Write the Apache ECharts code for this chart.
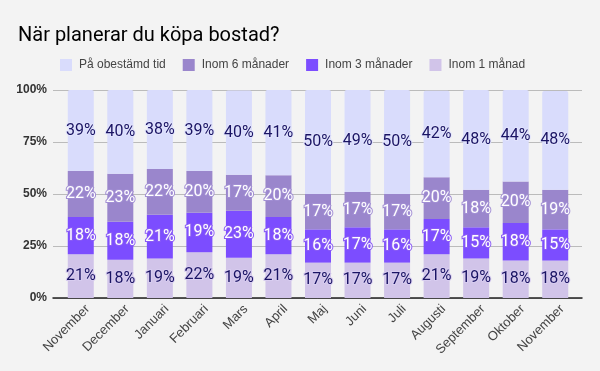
<!DOCTYPE html>
<html><head><meta charset="utf-8">
<script src="https://cdn.jsdelivr.net/npm/echarts@6/dist/echarts.min.js"></script>
<style>html,body{margin:0;padding:0;background:#f3f3f3}#c{width:600px;height:371px}</style>
</head><body><div id="c"></div>
<script>
var months = ['November','December','Januari','Februari','Mars','April','Maj','Juni','Juli','Augusti','September','Oktober','November'];
var inom1 = [21,18.4,19,22,19.3,21,17,17,17,21,19,18,18];
var inom3 = [18,18.2,21,19,22.6,18,16,17,16,17,15,18,15];
var inom6 = [22,23.1,22,20,17.4,20,17,17,17,20,18,20,19];
var obestamd = [39,40.3,38,39,40.4,41,50,49,50,41.6,48,44,47.5];
var yTicks = [0,25,50,75,100];

var chart = echarts.init(document.getElementById('c'), null, {renderer:'canvas'});
function lab(color, border, bcolor){
  return {show:true, position:'inside', formatter:function(p){return Math.round(p.value)+'%';}, fontFamily:'Roboto', fontSize:16,
          color:color, textBorderColor:bcolor, textBorderWidth:border};
}
var gTop=90, gBottom=73;
chart.setOption({
  backgroundColor:'#f3f3f3',
  animation:false,
  title:{text:'När planerar du köpa bostad?', left:13, top:21,
         textStyle:{fontFamily:'Roboto', fontSize:20, fontWeight:'normal', color:'#000'}},
  legend:{left:55, top:54, itemWidth:12, itemHeight:12, itemGap:17, icon:'rect',
          textStyle:{fontFamily:'Liberation Sans', fontSize:12, color:'#444', padding:[0,0,0,2]},
          data:['På obestämd tid','Inom 6 månader','Inom 3 månader','Inom 1 månad']},
  grid:[{left:53, right:18, top:gTop, bottom:gBottom},
        {left:61, right:25, top:gTop, bottom:gBottom},
        {left:68, right:18, top:gTop, bottom:gBottom}],
  xAxis:[{gridIndex:0, type:'category', data:months, axisTick:{show:false}, axisLabel:{show:false},
          axisLine:{lineStyle:{color:'#222', width:1.5}}},
         {gridIndex:1, type:'category', data:months, axisTick:{show:false}, axisLine:{show:false}, axisLabel:{show:false}},
         {gridIndex:2, type:'category', data:months, axisTick:{show:false}, axisLine:{show:false},
          axisLabel:{rotate:45, interval:0, margin:9, fontFamily:'Liberation Sans', fontSize:13, color:'#444'}}],
  yAxis:[{gridIndex:0, type:'value', min:0, max:100, interval:25,
          axisLabel:{formatter:function(v){return yTicks.indexOf(v)>=0? v+'%':'';}, fontFamily:'Liberation Sans', fontWeight:'bold', fontSize:12, color:'#333', margin:6},
          splitLine:{lineStyle:{color:'#bbb', width:1}}, axisLine:{show:false}, axisTick:{show:false}},
         {gridIndex:1, type:'value', min:0, max:100, interval:25, show:false, splitLine:{show:false}},
         {gridIndex:2, type:'value', min:0, max:100, interval:25, show:false, splitLine:{show:false}}],
  series:[
    {name:'Inom 1 månad', type:'bar', stack:'a', xAxisIndex:1, yAxisIndex:1, barWidth:26, data:inom1,
     itemStyle:{color:'#d1c4e9'}, label:lab('#1a1464',2,'#d8cdf0'), z:3},
    {name:'Inom 3 månader', type:'bar', stack:'a', xAxisIndex:1, yAxisIndex:1, barWidth:26, data:inom3,
     itemStyle:{color:'#7c4dff'}, label:lab('#ffffff',2,'#8a5cf5'), z:3},
    {name:'Inom 6 månader', type:'bar', stack:'a', xAxisIndex:1, yAxisIndex:1, barWidth:26, data:inom6,
     itemStyle:{color:'#9a86cc'}, label:lab('#ffffff',2,'#a28fd4'), z:3},
    {name:'På obestämd tid', type:'bar', stack:'a', xAxisIndex:1, yAxisIndex:1, barWidth:26, data:obestamd,
     itemStyle:{color:'#d9dcfc', borderRadius:[2,2,0,0]}, label:lab('#1a1464',2,'#e2e4fd'), z:3}
  ]
});
</script></body></html>
